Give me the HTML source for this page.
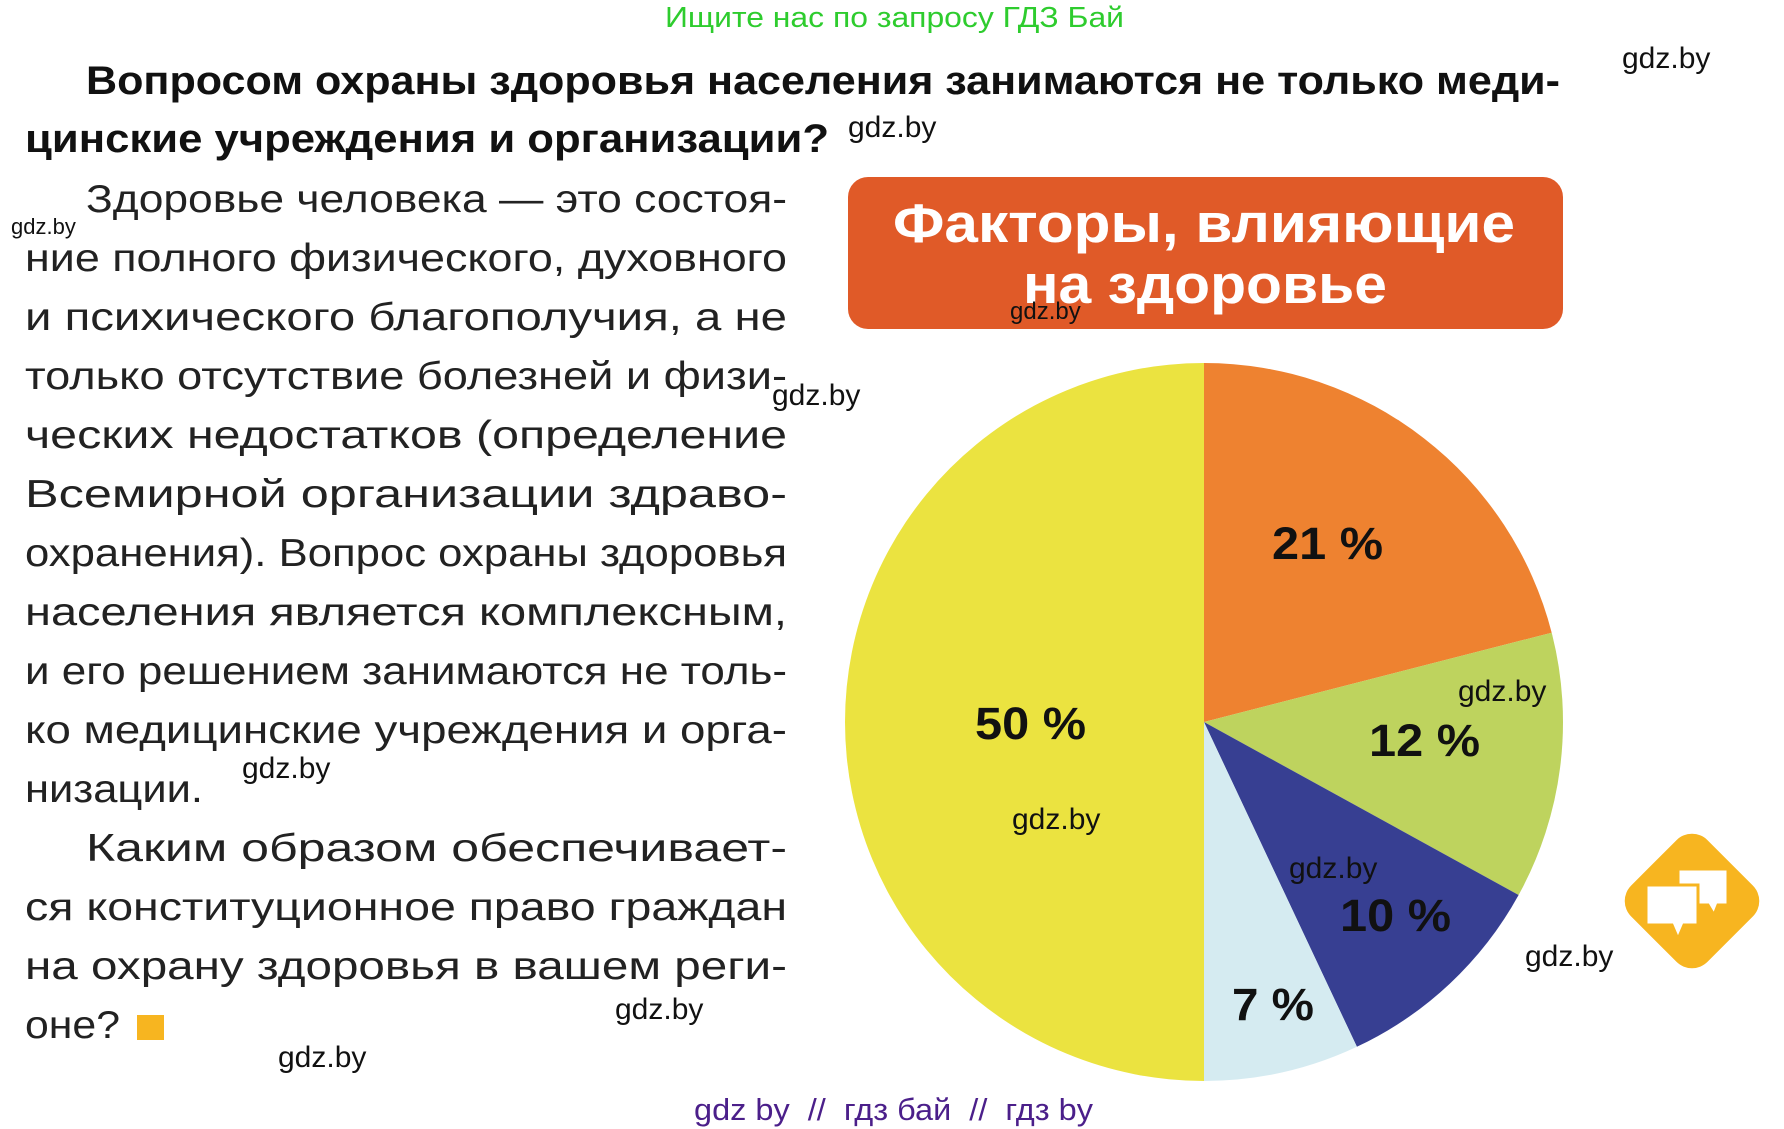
<!DOCTYPE html>
<html><head><meta charset="utf-8"><style>
html,body{margin:0;padding:0;background:#fff;}
svg{display:block;}
</style></head><body>
<svg width="1784" height="1129" viewBox="0 0 1784 1129" xmlns="http://www.w3.org/2000/svg">
<text x="665" y="27" font-size="29" fill="#2ecc2e" textLength="459" lengthAdjust="spacingAndGlyphs" font-family="Liberation Sans, sans-serif">Ищите нас по запросу ГДЗ Бай</text>
<g font-family="Liberation Sans, sans-serif" font-weight="bold" font-size="40" fill="#111">
<text x="86" y="94" textLength="1474" lengthAdjust="spacingAndGlyphs">Вопросом охраны здоровья населения занимаются не только меди-</text>
<text x="25" y="152" textLength="804" lengthAdjust="spacingAndGlyphs">цинские учреждения и организации?</text>
</g>
<g font-family="Liberation Sans, sans-serif" font-size="39" fill="#222">
<text x="86" y="212" textLength="701" lengthAdjust="spacingAndGlyphs">Здоровье человека — это состоя-</text>
<text x="25" y="271" textLength="762" lengthAdjust="spacingAndGlyphs">ние полного физического, духовного</text>
<text x="25" y="330" textLength="762" lengthAdjust="spacingAndGlyphs">и  психического  благополучия,  а  не</text>
<text x="25" y="389" textLength="762" lengthAdjust="spacingAndGlyphs">только отсутствие болезней и физи-</text>
<text x="25" y="448" textLength="762" lengthAdjust="spacingAndGlyphs">ческих  недостатков  (определение</text>
<text x="25" y="507" textLength="762" lengthAdjust="spacingAndGlyphs">Всемирной   организации   здраво-</text>
<text x="25" y="566" textLength="762" lengthAdjust="spacingAndGlyphs">охранения). Вопрос охраны здоровья</text>
<text x="25" y="625" textLength="762" lengthAdjust="spacingAndGlyphs">населения  является  комплексным,</text>
<text x="25" y="684" textLength="762" lengthAdjust="spacingAndGlyphs">и его решением занимаются не толь-</text>
<text x="25" y="743" textLength="762" lengthAdjust="spacingAndGlyphs">ко медицинские учреждения и орга-</text>
<text x="25" y="802" textLength="178" lengthAdjust="spacingAndGlyphs">низации.</text>
<text x="86" y="861" textLength="701" lengthAdjust="spacingAndGlyphs">Каким   образом   обеспечивает-</text>
<text x="25" y="920" textLength="762" lengthAdjust="spacingAndGlyphs">ся конституционное право граждан</text>
<text x="25" y="979" textLength="762" lengthAdjust="spacingAndGlyphs">на  охрану  здоровья  в  вашем  реги-</text>
<text x="25" y="1038" textLength="95" lengthAdjust="spacingAndGlyphs">оне?</text>
</g>
<rect x="137" y="1015" width="27" height="25" fill="#F7B520"/>
<rect x="848" y="177" width="715" height="152" rx="20" fill="#E05A28"/>
<g font-family="Liberation Sans, sans-serif" font-weight="bold" font-size="55" fill="#fff">
<text x="893" y="242" textLength="622" lengthAdjust="spacingAndGlyphs">Факторы, влияющие</text>
<text x="1023" y="303" textLength="364" lengthAdjust="spacingAndGlyphs">на здоровье</text>
</g>
<path d="M1204,722 L1204,363 A359,359 0 0 1 1551.7,632.7 Z" fill="#EE8230"/>
<path d="M1204,722 L1551.7,632.7 A359,359 0 0 1 1518.6,895 Z" fill="#BED35E"/>
<path d="M1204,722 L1518.6,895 A359,359 0 0 1 1356.9,1046.8 Z" fill="#373F92"/>
<path d="M1204,722 L1356.9,1046.8 A359,359 0 0 1 1204,1081 Z" fill="#D5EBF1"/>
<path d="M1204,722 L1204,1081 A359,359 0 0 1 1204,363 Z" fill="#EBE340"/>
<g font-family="Liberation Sans, sans-serif" font-weight="bold" font-size="45" fill="#111">
<text x="1272" y="559" textLength="111" lengthAdjust="spacingAndGlyphs">21 %</text>
<text x="1369" y="756" textLength="111" lengthAdjust="spacingAndGlyphs">12 %</text>
<text x="975" y="739" textLength="111" lengthAdjust="spacingAndGlyphs">50 %</text>
<text x="1340" y="931" textLength="111" lengthAdjust="spacingAndGlyphs">10 %</text>
<text x="1232" y="1020" textLength="82" lengthAdjust="spacingAndGlyphs">7 %</text>
</g>
<g transform="translate(1692,901)">
<rect x="-54" y="-54" width="108" height="108" rx="22" fill="#F7B520" transform="rotate(45)"/>
<path d="M-14,-32 h50 v36 h-10 l-4,10 l-6,-10 h-30 z" fill="#fff" stroke="#F7B520" stroke-width="3"/>
<path d="M-46,-16 h52 v40 h-14 l-6,14 l-6,-14 h-26 z" fill="#fff" stroke="#F7B520" stroke-width="3"/>
</g>
<g font-family="Liberation Sans, sans-serif" font-size="30" fill="#111">
<text x="1622" y="68">gdz.by</text>
<text x="848" y="137">gdz.by</text>
<text x="11" y="234" font-size="22">gdz.by</text>
<text x="1010" y="319" font-size="24">gdz.by</text>
<text x="772" y="405">gdz.by</text>
<text x="1458" y="701">gdz.by</text>
<text x="1012" y="829">gdz.by</text>
<text x="1289" y="878">gdz.by</text>
<text x="1525" y="966">gdz.by</text>
<text x="242" y="778">gdz.by</text>
<text x="615" y="1019">gdz.by</text>
<text x="278" y="1067">gdz.by</text>
</g>
<text x="694" y="1120" font-size="31" fill="#4B1F8A" textLength="399" lengthAdjust="spacingAndGlyphs" font-family="Liberation Sans, sans-serif" xml:space="preserve">gdz by  //  гдз бай  //  гдз by</text>
</svg>
</body></html>
